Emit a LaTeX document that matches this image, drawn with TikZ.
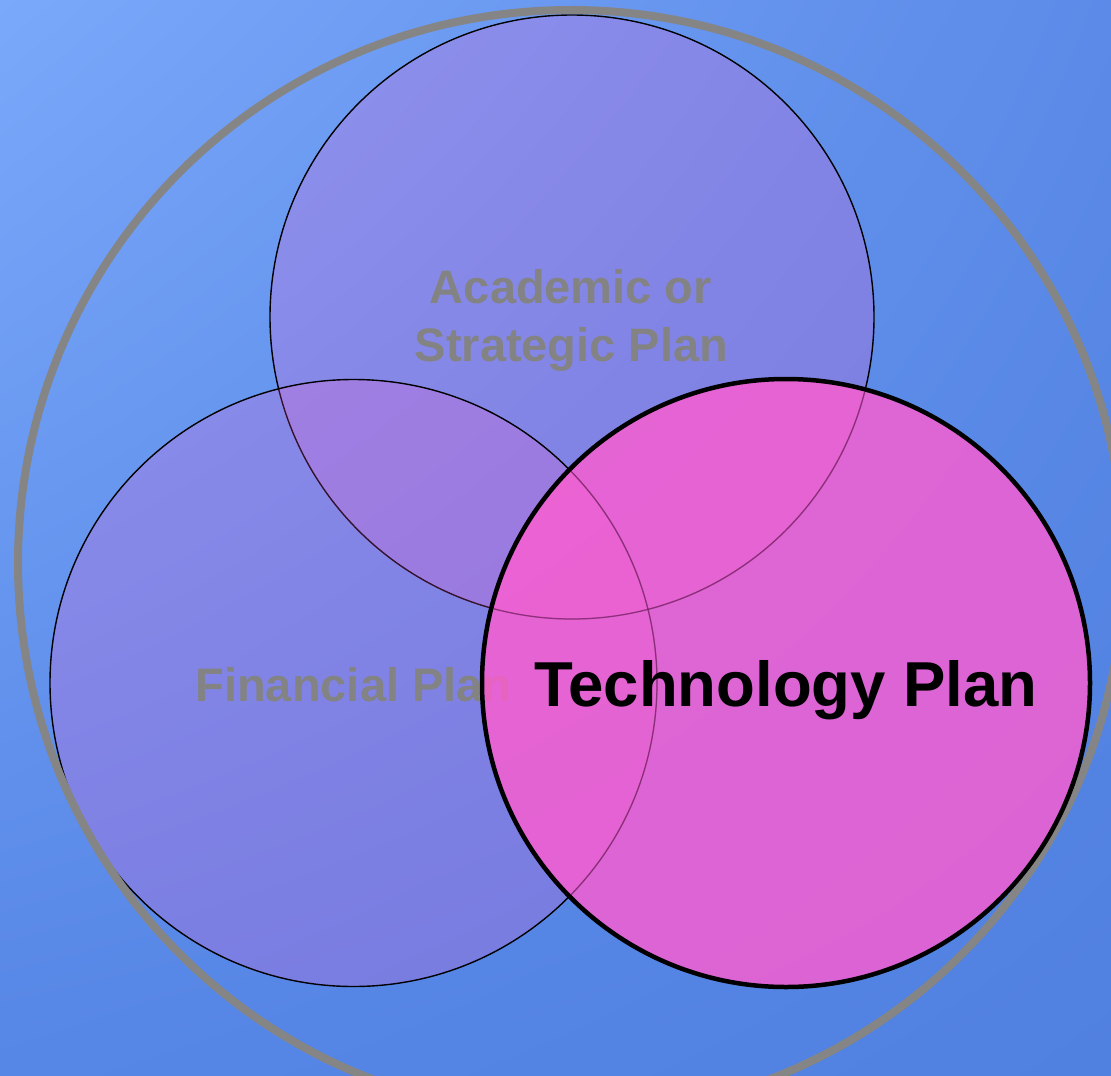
\documentclass[tikz,border=0pt]{standalone}
\usepackage{fontspec}
\setmainfont{Liberation Sans}
\usetikzlibrary{shadings}
\definecolor{pinkfill}{HTML}{FF5CD0}
\definecolor{outergray}{HTML}{858585}
\definecolor{labelgray}{HTML}{838383}
\definecolor{innerline}{HTML}{5A1E5A}
\definecolor{bgUL}{HTML}{7AA8FA}
\definecolor{bgUR}{HTML}{5B8AE8}
\definecolor{bgLL}{HTML}{5686E6}
\definecolor{bgLR}{HTML}{5080E0}
\begin{document}
\begin{tikzpicture}[x=1pt,y=-1pt,
  venn/.style={circle, draw=black, line width=1.4pt, fill=pinkfill, fill opacity=0.21, inner sep=0pt},
  techcircle/.style={circle, draw=black, line width=4.5pt, fill=pinkfill, fill opacity=0.80, inner sep=0pt},
  outercircle/.style={circle, draw=outergray, line width=8pt, inner sep=0pt},
  hiddenline/.style={draw=innerline, line width=1.2pt, draw opacity=0.6},
  graylabel/.style={text=labelgray, inner sep=0pt, anchor=base, font=\fontsize{47pt}{56pt}\selectfont\bfseries},
  techlabel/.style={text=black, inner sep=0pt, anchor=base, font=\fontsize{63.5pt}{76pt}\selectfont\bfseries}]
\useasboundingbox (0,0) rectangle (1111,1076);
\clip (0,0) rectangle (1111,1076);
\shade[upper left=bgUL, upper right=bgUR, lower left=bgLL, lower right=bgLR] (0,0) rectangle (1111,1076);
\node[venn, minimum size=604pt] (acad) at (572,317) {};
\node[venn, minimum size=607pt] (fin) at (353.5,683) {};
\node[graylabel] (acadA) at (571,303) {Academic or};
\node[graylabel] (acadB) at (571.5,361) {Strategic Plan};
\node[graylabel] (finlabel) at (353.5,701) {Financial Plan};
\node[outercircle, minimum size=1106pt] (outer) at (571,563) {};
\node[techcircle, minimum size=608pt] (tech) at (786,683) {};
\begin{scope}
  \clip (tech.center) circle[radius=302pt];
  \draw[hiddenline] (acad.center) circle[radius=302pt];
  \draw[hiddenline] (fin.center) circle[radius=303.5pt];
\end{scope}
\node[techlabel] (techlabel) at (786,706) {Technology Plan};
\end{tikzpicture}
\end{document}
